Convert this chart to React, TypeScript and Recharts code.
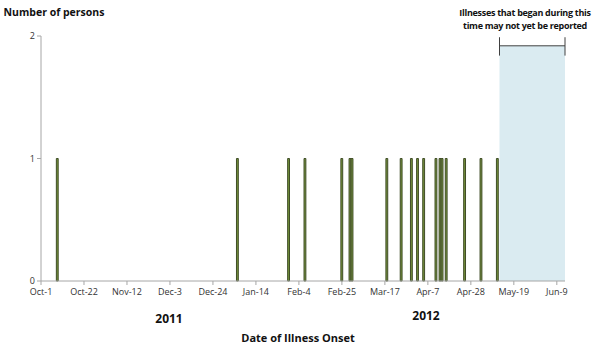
import React from "react";
import {
  BarChart,
  Bar,
  XAxis,
  YAxis,
  ReferenceArea,
  ReferenceLine,
} from "recharts";

// onset dates of reported illnesses (one person each)
const onsetDates = [
  "2011-10-09",
  "2012-01-05",
  "2012-01-30",
  "2012-02-07",
  "2012-02-25",
  "2012-02-29",
  "2012-03-01",
  "2012-03-18",
  "2012-03-25",
  "2012-03-30",
  "2012-04-02",
  "2012-04-05",
  "2012-04-11",
  "2012-04-13",
  "2012-04-14",
  "2012-04-16",
  "2012-04-25",
  "2012-05-03",
  "2012-05-11",
];
const persons = [1, 1, 1, 1, 1, 1, 1, 1, 1, 1, 1, 1, 1, 1, 1, 1, 1, 1, 1];

const tickDates = [
  "2011-10-01",
  "2011-10-22",
  "2011-11-12",
  "2011-12-03",
  "2011-12-24",
  "2012-01-14",
  "2012-02-04",
  "2012-02-25",
  "2012-03-17",
  "2012-04-07",
  "2012-04-28",
  "2012-05-19",
  "2012-06-09",
];
const tickLabels = [
  "Oct-1",
  "Oct-22",
  "Nov-12",
  "Dec-3",
  "Dec-24",
  "Jan-14",
  "Feb-4",
  "Feb-25",
  "Mar-17",
  "Apr-7",
  "Apr-28",
  "May-19",
  "Jun-9",
];
const yTicks = [0, 1, 2];

const axisStart = "2011-10-01";
const axisEnd = "2012-06-13";
const lagStart = "2012-05-12";
const lagEnd = "2012-06-13";

// days since Oct 1 2011
function dayIndex(s: string): number {
  const [y, m, d] = s.split("-").map(Number);
  const [y0, m0, d0] = axisStart.split("-").map(Number);
  return Math.round((Date.UTC(y, m - 1, d) - Date.UTC(y0, m0 - 1, d0)) / 86400000);
}

const data = onsetDates.map((d, i) => ({ day: dayIndex(d), persons: persons[i] }));
const ticks = tickDates.map(dayIndex);
const labelFor = (v: number) => tickLabels[ticks.indexOf(v)] ?? "";

const axisGrey = "#a6a6a6";
const font = "'Open Sans', 'Liberation Sans', sans-serif";

const textStyle: React.CSSProperties = {
  position: "absolute",
  fontFamily: font,
  fontWeight: 700,
  color: "#111",
  whiteSpace: "nowrap",
  transform: "translate(-50%, -50%)",
};

export default function App() {
  const x1 = dayIndex(lagStart);
  const x2 = dayIndex(lagEnd);
  return (
    <div style={{ position: "relative", width: 600, height: 353, background: "#fff" }}>
      <style>{`body{margin:0}`}</style>
      <BarChart
        width={600}
        height={353}
        data={data}
        margin={{ top: 36, right: 35, bottom: 50, left: 11 }}
        barSize={3}
      >
        <XAxis
          dataKey="day"
          type="number"
          domain={[0, dayIndex(axisEnd)]}
          ticks={ticks}
          tickFormatter={labelFor}
          interval={0}
          stroke={axisGrey}
          tickSize={4}
          tickMargin={4}
          tick={{ fontSize: 9, fill: "#333", fontFamily: font }}
          height={22}
          allowDataOverflow
        />
        <YAxis
          domain={[0, 2]}
          ticks={yTicks}
          width={30}
          stroke={axisGrey}
          tickSize={4}
          tick={{ fontSize: 9, fill: "#333", fontFamily: font }}
        />
        <ReferenceArea x1={x1} x2={x2} y1={0} y2={1.92} fill="#daebf1" fillOpacity={1} stroke="none" ifOverflow="extendDomain" />
        <ReferenceLine segment={[{ x: x1, y: 1.92 }, { x: x2, y: 1.92 }]} stroke="#404040" strokeWidth={1} />
        <ReferenceLine segment={[{ x: x1, y: 1.84 }, { x: x1, y: 1.99 }]} stroke="#404040" strokeWidth={1} />
        <ReferenceLine segment={[{ x: x2, y: 1.84 }, { x: x2, y: 1.99 }]} stroke="#404040" strokeWidth={1} />
        <Bar dataKey="persons" fill="#76923c" stroke="#3f4d26" strokeWidth={1} isAnimationActive={false} />
      </BarChart>
      <div style={{ ...textStyle, left: 54, top: 12, fontSize: 10.5 }}>Number of persons</div>
      <div style={{ ...textStyle, left: 525, top: 12, fontSize: 9, letterSpacing: -0.3 }}>
        Illnesses that began during this
      </div>
      <div style={{ ...textStyle, left: 525, top: 25, fontSize: 9, letterSpacing: -0.3 }}>
        time may not yet be reported
      </div>
      <div style={{ ...textStyle, left: 169, top: 318, fontSize: 12 }}>2011</div>
      <div style={{ ...textStyle, left: 426, top: 315, fontSize: 12 }}>2012</div>
      <div style={{ ...textStyle, left: 298, top: 337, fontSize: 11 }}>Date of Illness Onset</div>
    </div>
  );
}
